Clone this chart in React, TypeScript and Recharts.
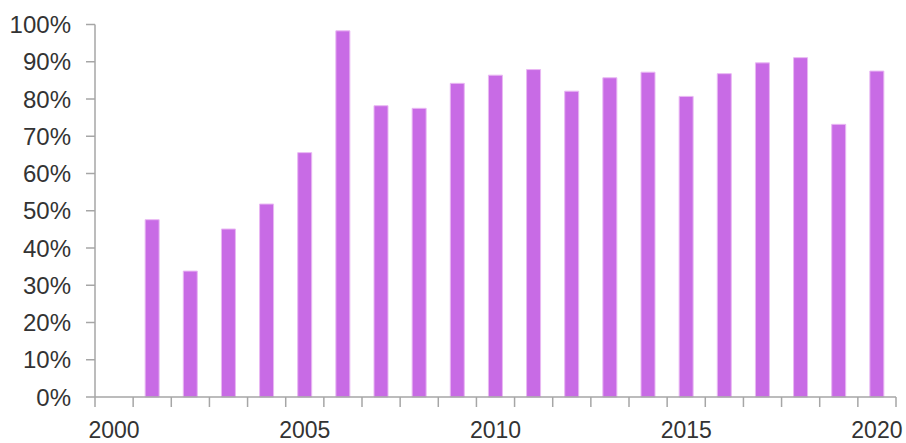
import React from "react";
import { BarChart, Bar, XAxis, YAxis } from "recharts";

const years = [
  "2000", "2001", "2002", "2003", "2004", "2005", "2006", "2007", "2008", "2009", "2010",
  "2011", "2012", "2013", "2014", "2015", "2016", "2017", "2018", "2019", "2020",
];
const shares: (number | null)[] = [
  null, 47.6, 33.8, 45.1, 51.8, 65.6, 98.3, 78.2, 77.5, 84.2, 86.4,
  87.9, 82.1, 85.7, 87.2, 80.7, 86.8, 89.7, 91.1, 73.2, 87.5,
];
const yTicks = [0, 10, 20, 30, 40, 50, 60, 70, 80, 90, 100];
const labelYears = ["2000", "2005", "2010", "2015", "2020"];

const data = years.map((y, i) => ({ year: y, value: shares[i] }));

const FONT = "'Liberation Sans', Arial, sans-serif";
const AXIS = "#a6a6a6";
const TEXT = "#333333";

const XTick = (props: any) => {
  const { x, y, payload, index, width, visibleTicksCount } = props;
  const count = visibleTicksCount || years.length;
  const half = payload && payload.offset ? payload.offset : width / count / 2;
  const left = x - half;
  const right = x + half;
  return (
    <g>
      <line x1={left} x2={left} y1={y} y2={y + 10} stroke={AXIS} strokeWidth={1.5} />
      {index === count - 1 && (
        <line x1={right} x2={right} y1={y} y2={y + 10} stroke={AXIS} strokeWidth={1.5} />
      )}
      {labelYears.includes(String(payload.value)) && (
        <text x={x} y={y + 41} textAnchor="middle" fill={TEXT} fontSize={23} fontFamily={FONT}>
          {payload.value}
        </text>
      )}
    </g>
  );
};

export default function App() {
  return (
    <div style={{ position: "absolute", left: 0, top: 0 }}>
      <BarChart
        width={906}
        height={443}
        data={data}
        margin={{ top: 24.5, right: 10, bottom: 0, left: 0 }}
        barCategoryGap={0}
      >
        <XAxis
          dataKey="year"
          interval={0}
          tickSize={0}
          tickMargin={0}
          tickLine={false}
          height={46}
          axisLine={{ stroke: AXIS, strokeWidth: 1.5 }}
          tick={<XTick />}
        />
        <YAxis
          domain={[0, 100]}
          ticks={yTicks}
          interval={0}
          width={95}
          tickSize={9}
          tickMargin={15}
          axisLine={{ stroke: AXIS, strokeWidth: 1.5 }}
          tickLine={{ stroke: AXIS, strokeWidth: 1.5 }}
          tickFormatter={(v: number) => `${v}%`}
          tick={{ fill: TEXT, fontSize: 24, fontFamily: FONT }}
        />
        <Bar
          dataKey="value"
          barSize={14}
          fill="#c86be5"
          stroke="#e9b8f3"
          strokeWidth={1}
          isAnimationActive={false}
        />
      </BarChart>
    </div>
  );
}
